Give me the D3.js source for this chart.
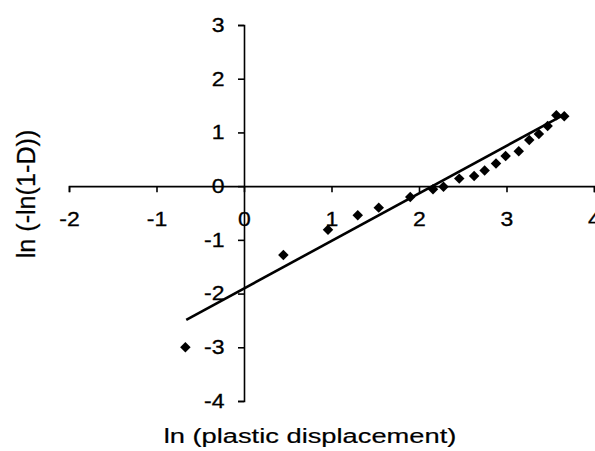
<!DOCTYPE html>
<html>
<head>
<meta charset="utf-8">
<script src="https://cdn.jsdelivr.net/npm/d3@7"></script>
<style>
  body { margin: 0; background: #fff; }
  text { font-family: "Liberation Sans", Arial, sans-serif; fill: #000; }
  .axis path, .axis line { stroke: #000; stroke-width: 1.6; }
</style>
</head>
<body>
<script>
// measured points: ln(plastic displacement) vs ln(-ln(1-D))
var xs = [-0.67, 0.45, 0.96, 1.30, 1.54, 1.90, 2.16, 2.28, 2.46, 2.63, 2.75, 2.88, 2.99, 3.14, 3.26, 3.37, 3.47, 3.57, 3.66];
var ys = [-3.00, -1.28, -0.81, -0.54, -0.40, -0.20, -0.06, -0.01, 0.14, 0.19, 0.29, 0.42, 0.56, 0.65, 0.86, 0.97, 1.12, 1.32, 1.30];
// fitted line
var fitSlope = 0.885, fitIntercept = -1.905;
var fitRange = [-0.66, 3.68];
var xTicks = [-2, -1, 0, 1, 2, 3, 4];
var yTicks = [-4, -3, -2, -1, 0, 1, 2, 3];

var width = 595, height = 451;
var stretch = 1.15; // the scanned original is wider than tall

var x = d3.scaleLinear().domain([-2, 4]).range([69, 594]);
var y = d3.scaleLinear().domain([-4, 3]).range([401, 25]);

var svg = d3.select("body").append("svg")
    .attr("width", width)
    .attr("height", height);

var xAxis = d3.axisBottom(x).tickValues(xTicks).tickSize(6).tickPadding(20).tickFormat(d3.format("d"));
var yAxis = d3.axisLeft(y).tickValues(yTicks).tickSize(6).tickPadding(11).tickFormat(d3.format("d"));

svg.append("g")
    .attr("class", "x axis")
    .attr("transform", "translate(0," + y(0) + ")")
    .call(xAxis);
svg.append("g")
    .attr("class", "y axis")
    .attr("transform", "translate(" + x(0) + ",0)")
    .call(yAxis);

svg.selectAll(".axis text")
    .attr("font-size", 20)
    .attr("font-family", "Liberation Sans, Arial, sans-serif")
    .attr("stroke", "#000")
    .attr("stroke-width", 0.3)
    .attr("transform", "scale(" + stretch + ",1)")
    .text(function(d) { return d < 0 ? "-" + Math.abs(d) : d; });

// trend line
var fit = fitRange.map(function(v) { return [v, fitSlope * v + fitIntercept]; });
svg.append("path")
    .datum(fit)
    .attr("fill", "none")
    .attr("stroke", "#000")
    .attr("stroke-width", 2.6)
    .attr("d", d3.line().x(d => x(d[0])).y(d => y(d[1])));

// points
var pts = xs.map(function(v, i) { return [v, ys[i]]; });
var diamond = d3.symbol().type(d3.symbolSquare).size(55);
svg.selectAll("path.pt").data(pts)
    .enter()
    .append("path")
    .attr("class", "pt")
    .attr("d", diamond)
    .attr("fill", "#000")
    .attr("transform", d => "translate(" + x(d[0]) + "," + y(d[1]) + ") rotate(45)");

// axis titles
svg.append("text")
    .attr("transform", "translate(310,443) scale(1.3,1)")
    .attr("text-anchor", "middle")
    .attr("font-size", 21)
    .attr("stroke", "#000")
    .attr("stroke-width", 0.2)
    .text("ln (plastic displacement)");

svg.append("text")
    .attr("transform", "translate(35,194) rotate(-90) scale(1.2,1.25)")
    .attr("text-anchor", "middle")
    .attr("font-size", 21)
    .attr("stroke", "#000")
    .attr("stroke-width", 0.2)
    .text("ln (-ln(1-D))");
</script>
</body>
</html>
